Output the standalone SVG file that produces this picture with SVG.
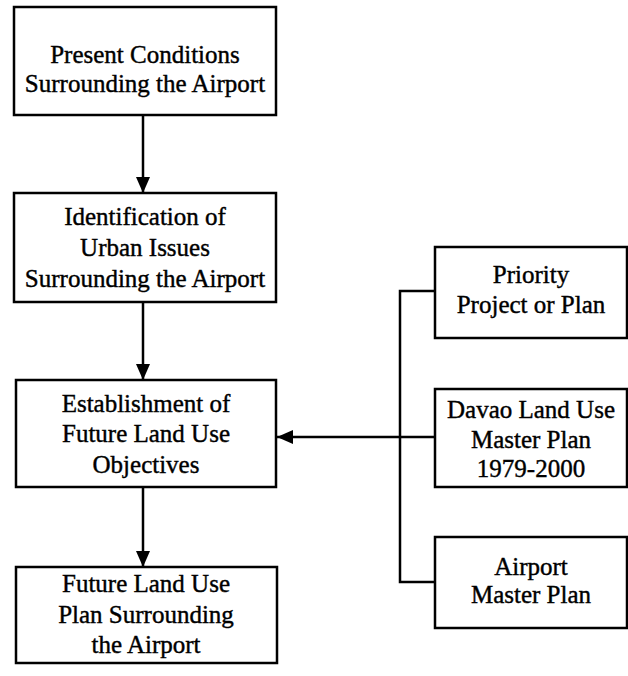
<svg xmlns="http://www.w3.org/2000/svg" width="628" height="676" viewBox="0 0 628 676">
<style>
.box{fill:#fff;stroke:#000;stroke-width:2.5}
.t{font-family:'Liberation Serif','Times New Roman','DejaVu Serif',serif;font-size:25px;fill:#000;stroke:#000;stroke-width:0.4;text-anchor:middle}
.c{fill:none;stroke:#000;stroke-width:2.5}
</style>
<defs>
<marker id="ah" viewBox="0 0 16 14" refX="16" refY="7" markerWidth="16" markerHeight="14" markerUnits="userSpaceOnUse" orient="auto">
<path d="M0,0 L16,7 L0,14 Z" fill="#000"/>
</marker>
</defs>
<rect width="628" height="676" fill="#fff"/>
<g id="connectors">
<line class="c" x1="143" y1="115" x2="143" y2="193" marker-end="url(#ah)"/>
<line class="c" x1="143" y1="302" x2="143" y2="380" marker-end="url(#ah)"/>
<line class="c" x1="143" y1="487" x2="143" y2="567" marker-end="url(#ah)"/>
<polyline class="c" points="435,291 400,291 400,582 435,582"/>
<line class="c" x1="435" y1="437" x2="277" y2="437" marker-end="url(#ah)"/>
</g>
<g id="n1">
<rect class="box" x="14" y="7" width="262" height="108"/>
<text class="t" x="145" y="63">Present Conditions</text>
<text class="t" x="145" y="92">Surrounding the Airport</text>
</g>
<g id="n2">
<rect class="box" x="14" y="193" width="262" height="109"/>
<text class="t" x="145" y="225">Identification of</text>
<text class="t" x="145" y="256">Urban Issues</text>
<text class="t" x="145" y="287">Surrounding the Airport</text>
</g>
<g id="n3">
<rect class="box" x="16" y="380" width="260" height="107"/>
<text class="t" x="146" y="412">Establishment of</text>
<text class="t" x="146" y="442">Future Land Use</text>
<text class="t" x="146" y="473">Objectives</text>
</g>
<g id="n4">
<rect class="box" x="16" y="567" width="261" height="96"/>
<text class="t" x="146" y="592">Future Land Use</text>
<text class="t" x="146" y="623">Plan Surrounding</text>
<text class="t" x="146" y="653">the Airport</text>
</g>
<g id="n5">
<rect class="box" x="435" y="247" width="192" height="91"/>
<text class="t" x="531" y="283">Priority</text>
<text class="t" x="531" y="313">Project or Plan</text>
</g>
<g id="n6">
<rect class="box" x="435" y="389" width="192" height="98"/>
<text class="t" x="531" y="418">Davao Land Use</text>
<text class="t" x="531" y="448">Master Plan</text>
<text class="t" x="531" y="477">1979-2000</text>
</g>
<g id="n7">
<rect class="box" x="435" y="537" width="192" height="91"/>
<text class="t" x="531" y="575">Airport</text>
<text class="t" x="531" y="603">Master Plan</text>
</g>
</svg>
